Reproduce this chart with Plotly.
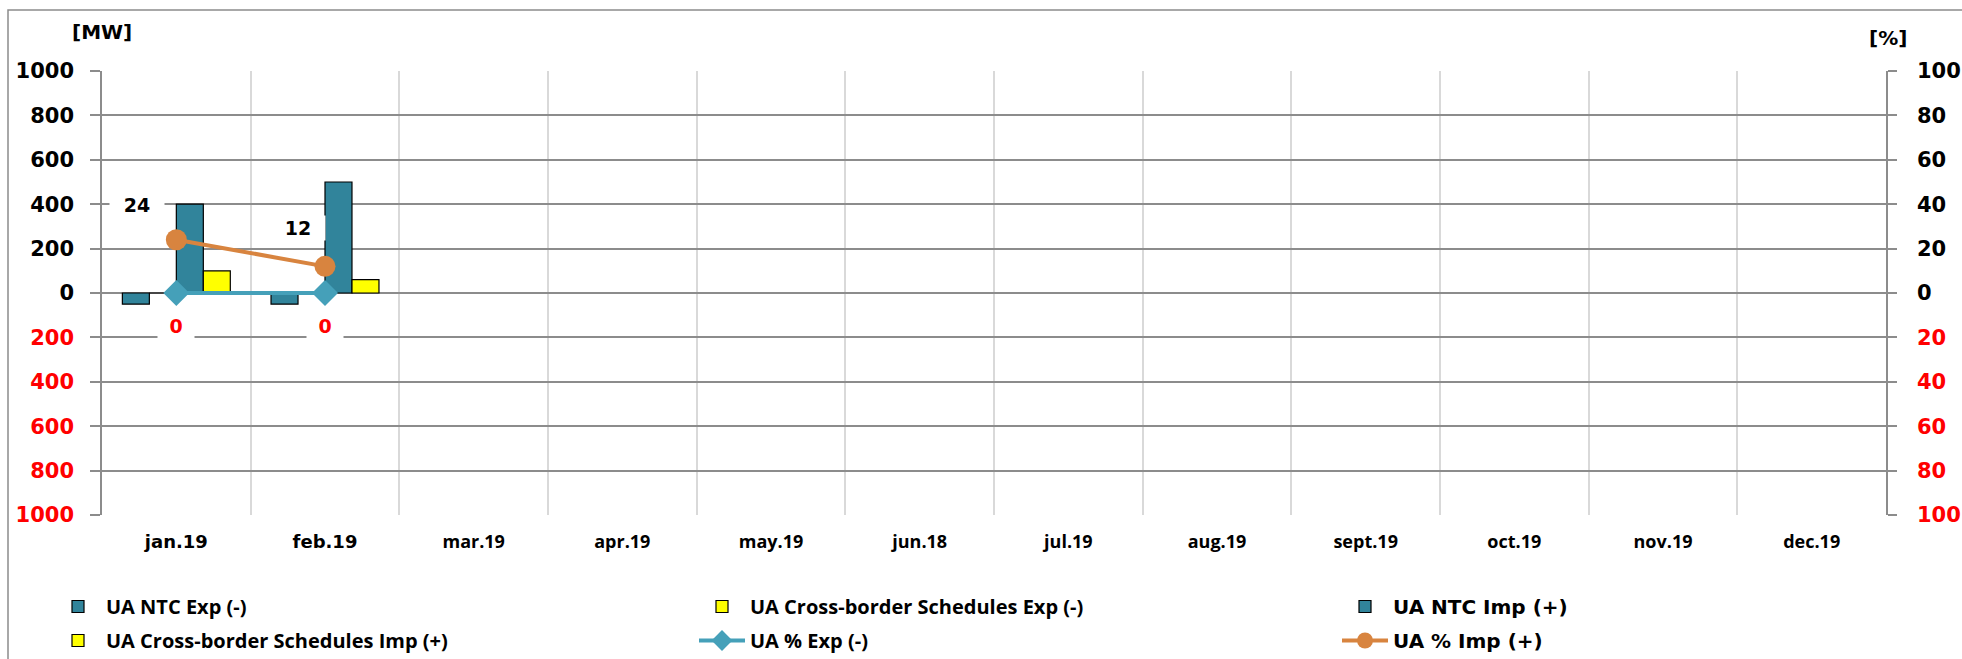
import plotly.graph_objects as go

# Monthly categories
months = ["jan.19", "feb.19", "mar.19", "apr.19", "may.19", "jun.18",
          "jul.19", "aug.19", "sept.19", "oct.19", "nov.19", "dec.19"]

# Capacities and schedules [MW]; export values are negative
ntc_exp = [-50, -50, None, None, None, None, None, None, None, None, None, None]
cb_exp = [0, 0, None, None, None, None, None, None, None, None, None, None]
ntc_imp = [400, 500, None, None, None, None, None, None, None, None, None, None]
cb_imp = [100, 60, None, None, None, None, None, None, None, None, None, None]

# Utilisation [%]
pct_exp = [0, 0, None, None, None, None, None, None, None, None, None, None]
pct_imp = [24, 12, None, None, None, None, None, None, None, None, None, None]

# Axis ticks
mw_ticks = [-1000, -800, -600, -400, -200, 0, 200, 400, 600, 800, 1000]
pct_ticks = [-100, -80, -60, -40, -20, 0, 20, 40, 60, 80, 100]

TEAL_BAR = "#31849B"
YELLOW = "#FFFF00"
TEAL_LINE = "#45A0B9"
ORANGE = "#D8843F"
GRID = "#8C8C8C"
RED = "#FF0000"
WIDE = "DejaVu Sans"
NARROW = "Open Sans"


def span(text, family):
    return f"<span style='font-family:{family}'>{text}</span>"


def signed_label(v):
    # negative side of the axis shows absolute values in red
    return f"<span style='color:{RED}'>{abs(v)}</span>" if v < 0 else str(v)


bar_line = dict(color="#000000", width=1.2)
fig = go.Figure()

# legend is laid out in three columns of two entries each
fig.add_trace(go.Bar(x=months, y=ntc_exp, name="UA NTC Exp (-)", legend="legend",
                     legendgroup="a", marker=dict(color=TEAL_BAR, line=bar_line)))
fig.add_trace(go.Bar(x=months, y=cb_exp, name="UA Cross-border Schedules Exp (-)",
                     legend="legend2", legendgroup="b",
                     marker=dict(color=YELLOW, line=bar_line)))
fig.add_trace(go.Bar(x=months, y=ntc_imp, name=span("UA NTC Imp (+)", WIDE),
                     legend="legend3", legendgroup="c",
                     marker=dict(color=TEAL_BAR, line=bar_line)))
fig.add_trace(go.Bar(x=months, y=cb_imp, name="UA Cross-border Schedules Imp (+)",
                     legend="legend", legendgroup="d",
                     marker=dict(color=YELLOW, line=bar_line)))

fig.add_trace(go.Scatter(x=months, y=pct_exp, name="UA % Exp (-)", yaxis="y2",
                         legend="legend2", legendgroup="e",
                         mode="lines+markers",
                         line=dict(color=TEAL_LINE, width=4),
                         marker=dict(symbol="diamond", size=20, color=TEAL_LINE)))
fig.add_trace(go.Scatter(x=months, y=pct_imp, name=span("UA % Imp (+)", WIDE), yaxis="y2",
                         legend="legend3", legendgroup="f",
                         mode="lines+markers",
                         line=dict(color=ORANGE, width=4),
                         marker=dict(symbol="circle", size=21, color=ORANGE)))

W, H = 1962, 659
ML, MR, MT, MB = 102, 76, 71, 144
PW, PH = W - ML - MR, H - MT - MB


def px_x(px):
    return (px - ML) / PW


def px_y(py):
    return (H - MB - py) / PH


annotations = []
label_font = dict(family=WIDE, size=19, weight="bold")
# value labels of the import percentage
imp_shifts = [(-39, 35), (-27, 38)]
for i, v in enumerate(pct_imp):
    if v is None:
        continue
    dx, dy = imp_shifts[i]
    annotations.append(dict(x=months[i], y=v, xref="x", yref="y2", text=str(v),
                            showarrow=False, xshift=dx, yshift=dy,
                            font=dict(color="#000000", **label_font),
                            bgcolor="#FFFFFF", width=52, height=22))
# value labels of the export percentage
for i, v in enumerate(pct_exp):
    if v is None:
        continue
    annotations.append(dict(x=months[i], y=v, xref="x", yref="y2", text=str(v),
                            showarrow=False, xshift=0, yshift=-33,
                            font=dict(color=RED, **label_font),
                            bgcolor="#FFFFFF", width=34, height=26))

# unit labels
unit_font = dict(family=WIDE, size=20, weight="bold", color="#000000")
annotations.append(dict(x=px_x(102), y=px_y(32), xref="paper", yref="paper", text="[MW]",
                        xanchor="center", yanchor="middle",
                        showarrow=False, font=unit_font))
annotations.append(dict(x=px_x(1888), y=px_y(38), xref="paper", yref="paper", text="[%]",
                        xanchor="center", yanchor="middle",
                        showarrow=False, font=unit_font))

tick_font = dict(family=WIDE, size=21, weight="bold", color="#000000")


def legend_column(left_px):
    return dict(orientation="v", xref="container", yref="container",
                x=left_px / W, xanchor="left", y=1 - 587 / H, yanchor="top",
                itemwidth=46, tracegroupgap=5,
                font=dict(family=NARROW, size=20, weight="bold", color="#000000"),
                bgcolor="rgba(0,0,0,0)")


fig.update_layout(
    width=W, height=H,
    margin=dict(l=ML, r=MR, t=MT, b=MB, autoexpand=False),
    paper_bgcolor="#FFFFFF", plot_bgcolor="#FFFFFF",
    barmode="group", bargap=0.274, bargroupgap=0,
    showlegend=True,
    legend=legend_column(50),
    legend2=legend_column(694),
    legend3=legend_column(1337),
    xaxis=dict(type="category", categoryorder="array", categoryarray=months,
               tickmode="array", tickvals=months,
               ticktext=[span(m, WIDE) if i < 2 else m for i, m in enumerate(months)],
               tickson="boundaries", ticks="", showgrid=True,
               gridcolor="#D9D9D9", gridwidth=1.5,
               tickfont=dict(family=NARROW, size=18, weight="bold", color="#000000"),
               ticklabelstandoff=14,
               showline=False, zeroline=False, range=[-0.5, 11.5]),
    yaxis=dict(range=[-1000, 1000], tickmode="array", tickvals=mw_ticks,
               ticktext=[signed_label(v) for v in mw_ticks],
               showgrid=True, gridcolor=GRID, gridwidth=1.5,
               zeroline=False, showline=True, linecolor=GRID, linewidth=1.5,
               ticks="outside", ticklen=10, tickcolor=GRID, tickwidth=1.5,
               ticklabelstandoff=12, tickfont=tick_font),
    yaxis2=dict(range=[-100, 100], overlaying="y", side="right",
                tickmode="array", tickvals=pct_ticks,
                ticktext=[signed_label(v) for v in pct_ticks],
                showgrid=False, zeroline=False, showline=True,
                linecolor=GRID, linewidth=1.5,
                ticks="outside", ticklen=9, tickcolor=GRID, tickwidth=1.5,
                ticklabelstandoff=16, tickfont=tick_font),
    annotations=annotations,
    shapes=[dict(type="rect", xref="paper", yref="paper",
                 x0=px_x(8), x1=px_x(W + 20), y0=px_y(H + 20), y1=px_y(10),
                 line=dict(color="#8C8C8C", width=1.5), fillcolor="rgba(0,0,0,0)",
                 layer="below")],
)

fig.write_html("out.html")
